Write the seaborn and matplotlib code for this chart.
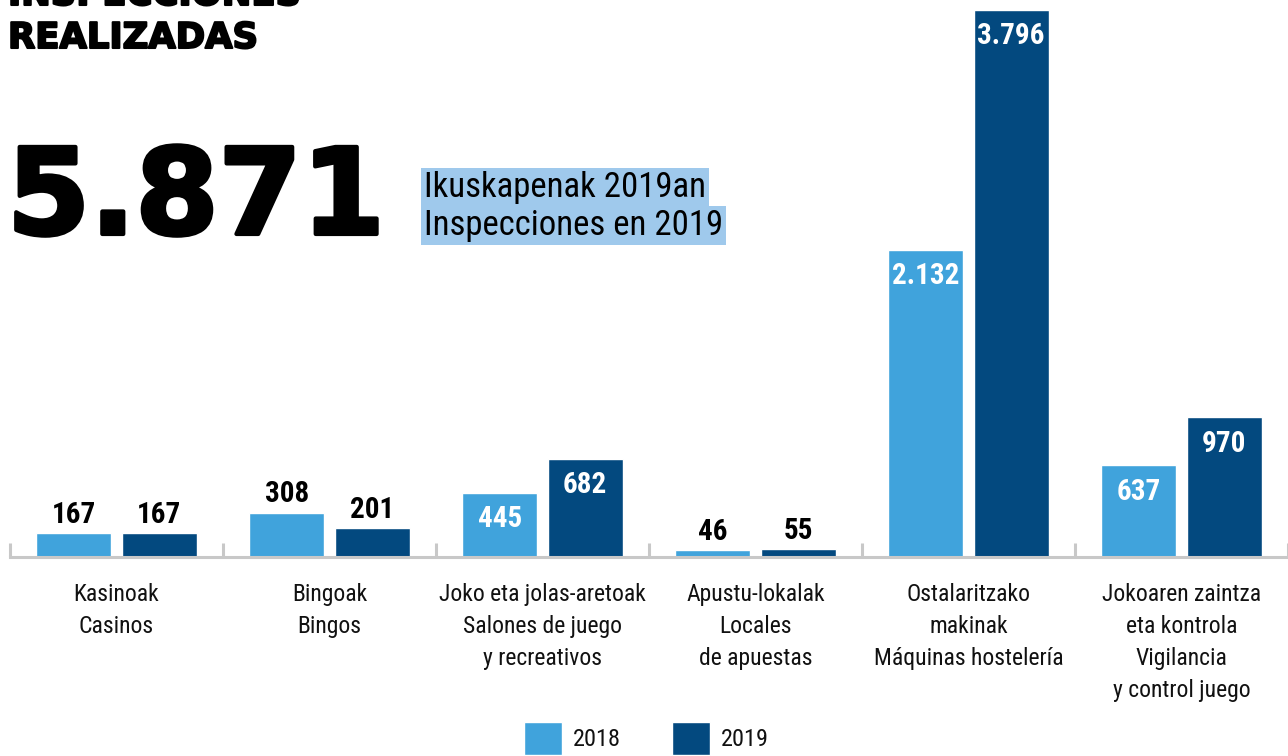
import pandas as pd
import matplotlib
matplotlib.use('Agg')
import matplotlib.pyplot as plt
import matplotlib.patheffects as pe
from matplotlib import font_manager
import seaborn as sns

# data
categories = ['Kasinoak\nCasinos',
              'Bingoak\nBingos',
              'Joko eta jolas-aretoak\nSalones de juego\ny recreativos',
              'Apustu-lokalak\nLocales\nde apuestas',
              'Ostalaritzako\nmakinak\nMáquinas hostelería',
              'Jokoaren zaintza\neta kontrola\nVigilancia\ny control juego']
years = ['2018', '2019']
values_2018 = [167, 308, 445, 46, 2132, 637]
values_2019 = [167, 201, 682, 55, 3796, 970]
total = '5.871'

df = pd.DataFrame({
    'categoria': categories * 2,
    'year': [years[0]] * 6 + [years[1]] * 6,
    'value': values_2018 + values_2019,
})

light = '#40a3dc'
dark = '#03497f'

# pick a condensed face if there is one, otherwise Liberation Sans a bit smaller
installed = {f.name for f in font_manager.fontManager.ttflist}
sc = 0.82
narrow_name = 'Liberation Sans'
for name in ['Roboto Condensed', 'Liberation Sans Narrow', 'DejaVu Sans Condensed']:
    if name in installed:
        narrow_name = name
        sc = 1.0
        break
narrow = [narrow_name, 'DejaVu Sans']

sns.set_theme(style='white')
plt.rcParams['font.family'] = narrow
plt.rcParams['text.color'] = 'black'

fig = plt.figure(figsize=(12.88, 7.56), dpi=100)
ax = fig.add_axes([10 / 1288, 199 / 756, 1278 / 1288, 547 / 756])

sns.barplot(data=df, x='categoria', y='value', hue='year', palette=[light, dark],
            width=0.8, gap=0.12, saturation=1, ax=ax, legend=True)

ax.set_xlim(-0.5, 5.5)
ax.set_ylim(0, 3796)
ax.set_xlabel('')
ax.set_ylabel('')
ax.set_yticks([])
for s in ['top', 'right', 'left']:
    ax.spines[s].set_visible(False)
ax.spines['bottom'].set_color('#c8c8c8')
ax.spines['bottom'].set_linewidth(2.2)

# boundary ticks
ax.set_xticks([i - 0.5 for i in range(7)], minor=True)
ax.tick_params(axis='x', which='minor', direction='in', length=10, width=2.2,
               color='#c8c8c8', bottom=True)
ax.tick_params(axis='x', which='major', length=0, pad=19, labelsize=17 * sc,
               labelcolor='#111111')
for lab in ax.get_xticklabels():
    lab.set_linespacing(1.5)

# value labels
for cont in ax.containers:
    for bar in cont:
        h = bar.get_height()
        cx = bar.get_x() + bar.get_width() / 2
        txt = f'{int(h):,}'.replace(',', '.')
        if h > 400:
            ax.annotate(txt, (cx, h), xytext=(0, -9), textcoords='offset points',
                        ha='center', va='top', color='white', fontsize=21 * sc,
                        fontweight='bold')
        else:
            ax.annotate(txt, (cx, h), xytext=(0, 3), textcoords='offset points',
                        ha='center', va='bottom', color='black', fontsize=21 * sc,
                        fontweight='bold')

# legend
leg = ax.get_legend()
handles, labels = ax.get_legend_handles_labels()
leg.remove()
fig.legend(handles, labels, loc='upper center', bbox_to_anchor=(0.502, 34 / 756),
           ncol=2, frameon=False, fontsize=17.5 * sc, handlelength=1.56 / sc,
           handleheight=1.7 / sc, handletextpad=0.45 / sc, columnspacing=2.1 / sc,
           borderpad=0, borderaxespad=0, labelcolor='#111111')

# titles
heavy1 = [pe.withStroke(linewidth=1.5, foreground='black')]
heavy2 = [pe.withStroke(linewidth=3, foreground='black')]
fig.text(8 / 1288, (756 - 5) / 756, 'INSPECCIONES', fontsize=25.5, fontweight='bold',
         family='DejaVu Sans', va='baseline', ha='left', path_effects=heavy1)
fig.text(8 / 1288, (756 - 48) / 756, 'REALIZADAS', fontsize=25.5, fontweight='bold',
         family='DejaVu Sans', va='baseline', ha='left', path_effects=heavy1)
fig.text(7 / 1288, (756 - 234) / 756, total, fontsize=86, fontweight='heavy',
         family='DejaVu Sans', va='baseline', ha='left', path_effects=heavy2)

box = dict(boxstyle='square,pad=0.08', fc='#9fc9ec', ec='none')
fig.text(424 / 1288, (756 - 197) / 756, 'Ikuskapenak 2019an', fontsize=25 * sc,
         family=narrow, va='baseline', ha='left', bbox=box)
fig.text(424 / 1288, (756 - 235) / 756, 'Inspecciones en 2019', fontsize=25 * sc,
         family=narrow, va='baseline', ha='left', bbox=box)

plt.savefig('out.png', dpi=100)
